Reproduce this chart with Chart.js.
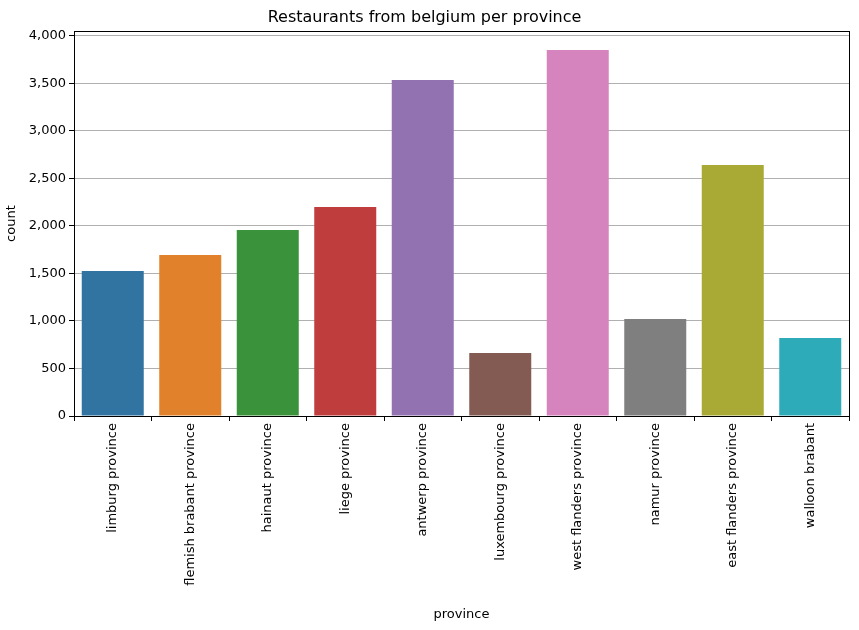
<!DOCTYPE html>
<html><head><meta charset="utf-8">
<script src="https://cdn.jsdelivr.net/npm/chart.js@4"></script>
<style>html,body{margin:0;padding:0;background:#fff}#w{width:859px;height:630px}</style>
</head><body><div id="w"><canvas id="c"></canvas></div>
<script>
const categories=["limburg province","flemish brabant province","hainaut province","liege province","antwerp province","luxembourg province","west flanders province","namur province","east flanders province","walloon brabant"];
const counts=[1526,1695,1958,2200,3537,663,3853,1021,2642,821];
const colors=["#3274a1","#e1812c","#3a923a","#c03d3e","#9372b2","#845b53","#d684bd","#7f7f7f","#a9aa35","#2eabb8"];
const yTicks=[0,500,1000,1500,2000,2500,3000,3500,4000];
Chart.defaults.font.family="DejaVu Sans";
Chart.defaults.color="#000";
const frame={id:'frame',afterDatasetsDraw(ch){const a=ch.chartArea,c=ch.ctx;c.save();c.strokeStyle="#000";c.lineWidth=1;c.strokeRect(Math.round(a.left)+0.5,Math.round(a.top)+0.5,Math.round(a.width),Math.round(a.height));c.restore();}};
new Chart(document.getElementById('c'),{type:'bar',
data:{labels:categories,datasets:[{data:counts,backgroundColor:colors,categoryPercentage:1,barPercentage:0.8}]},
options:{responsive:true,maintainAspectRatio:false,animation:false,
layout:{padding:{left:0,right:10,top:0,bottom:0}},
plugins:{legend:{display:false},tooltip:{enabled:false},
title:{display:true,text:"Restaurants from belgium per province",font:{size:16,weight:'normal'},padding:{top:8,bottom:4}}},
scales:{
x:{afterFit(s){s.height=214;},grid:{drawOnChartArea:false,tickLength:5,color:"#000"},border:{color:"#000"},
ticks:{font:{size:13},maxRotation:90,minRotation:90,padding:2},
title:{display:true,text:"province",font:{size:13},padding:{top:0,bottom:8}}},
y:{min:0,max:4050,afterFit(s){s.width=74;},afterBuildTicks(s){s.ticks=yTicks.map(v=>({value:v}));},
grid:{color:"#b0b0b0",tickLength:5,tickColor:"#000"},border:{color:"#000"},
ticks:{font:{size:13},padding:3},
title:{display:true,text:"count",font:{size:13},padding:{bottom:6}}}}},
plugins:[frame]});
</script></body></html>
